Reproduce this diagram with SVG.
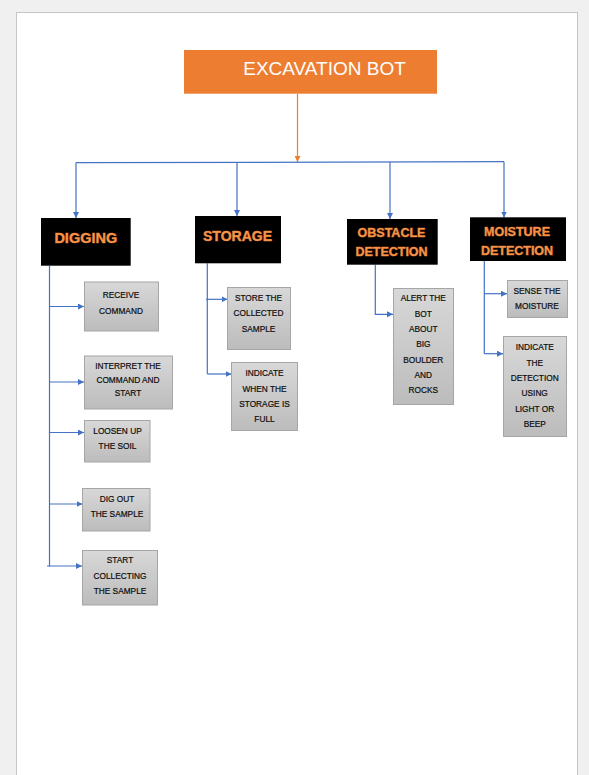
<svg xmlns="http://www.w3.org/2000/svg" width="589" height="775" viewBox="0 0 589 775">
<style>
.conn{fill:none;stroke:#4472C4;stroke-width:1.2}
.orange{fill:none;stroke:#ED7D31;stroke-width:1.2}
.blk{fill:#000}
.head{font-family:"Liberation Sans",Arial,sans-serif;font-weight:bold;fill:#F39448;stroke:#E0702A;stroke-width:0.5;paint-order:stroke;text-anchor:middle}
.gbox{fill:url(#gg);stroke:#A6A6A6;stroke-width:1}
.gt{font-family:"Liberation Sans",Arial,sans-serif;font-size:8.3px;fill:#0d0d0d;stroke:#0d0d0d;stroke-width:0.2;text-anchor:middle}
</style>
<defs>
<linearGradient id="gg" x1="0" y1="0" x2="0" y2="1">
<stop offset="0" stop-color="#D8D8D8"/>
<stop offset="1" stop-color="#BCBCBC"/>
</linearGradient>
<marker id="ab" markerUnits="userSpaceOnUse" markerWidth="7" markerHeight="6" refX="6" refY="3" orient="auto">
<path d="M0,0 L6,3 L0,6 z" fill="#4472C4"/>
</marker>
<marker id="ao" markerUnits="userSpaceOnUse" markerWidth="7" markerHeight="6" refX="6" refY="3" orient="auto">
<path d="M0,0 L6,3 L0,6 z" fill="#ED7D31"/>
</marker>
</defs>
<rect x="0" y="0" width="589" height="775" fill="#F0F0F0"/>
<rect x="16.5" y="12.5" width="561" height="790" fill="#FFFFFF" stroke="#C6C6C6" stroke-width="1"/>

<g id="connectors">
<line class="orange" x1="297.5" y1="94" x2="297.5" y2="162" marker-end="url(#ao)"/>
<line class="conn" x1="76" y1="162.7" x2="504" y2="161.7"/>
<line class="conn" x1="76" y1="162.5" x2="76" y2="218" marker-end="url(#ab)"/>
<line class="conn" x1="237" y1="162.2" x2="237" y2="216" marker-end="url(#ab)"/>
<line class="conn" x1="390" y1="162" x2="390" y2="219" marker-end="url(#ab)"/>
<line class="conn" x1="504" y1="161.7" x2="504" y2="217.5" marker-end="url(#ab)"/>
<line class="conn" x1="49.5" y1="265.7" x2="49.5" y2="566.5"/>
<line class="conn" x1="49.5" y1="306.5" x2="84" y2="306.5" marker-end="url(#ab)"/>
<line class="conn" x1="49.5" y1="382" x2="84" y2="382" marker-end="url(#ab)"/>
<line class="conn" x1="49.5" y1="432.5" x2="84" y2="432.5" marker-end="url(#ab)"/>
<line class="conn" x1="49.5" y1="504" x2="82.5" y2="504" marker-end="url(#ab)"/>
<line class="conn" x1="47" y1="566" x2="82" y2="566" marker-end="url(#ab)"/>
<line class="conn" x1="207.3" y1="263.3" x2="207.3" y2="374"/>
<line class="conn" x1="206" y1="299.3" x2="227.5" y2="299.3" marker-end="url(#ab)"/>
<line class="conn" x1="207.3" y1="374" x2="231.5" y2="374" marker-end="url(#ab)"/>
<path class="conn" d="M375.3,264.7 V314.3 H393" marker-end="url(#ab)"/>
<line class="conn" x1="484.3" y1="261" x2="484.3" y2="353.7"/>
<line class="conn" x1="484.3" y1="293.7" x2="507" y2="293.7" marker-end="url(#ab)"/>
<line class="conn" x1="484.3" y1="353.7" x2="503" y2="353.7" marker-end="url(#ab)"/>
</g>

<g id="excavation-bot">
<rect x="184" y="50" width="253" height="43.7" fill="#ED7D31"/>
<text x="324.5" y="75" font-family="'Liberation Sans',Arial,sans-serif" font-size="19" fill="#FFFFFF" text-anchor="middle">EXCAVATION BOT</text>
</g>

<g id="digging">
<rect class="blk" x="41" y="218" width="89.7" height="47.7"/>
<text class="head" x="85.8" y="243.3" font-size="14.5">DIGGING</text>
</g>
<g id="storage">
<rect class="blk" x="195" y="216" width="86" height="47.3"/>
<text class="head" x="237.5" y="241" font-size="14">STORAGE</text>
</g>
<g id="obstacle-detection">
<rect class="blk" x="347" y="219" width="90.7" height="45.7"/>
<text class="head" x="391.5" y="237" font-size="12.5">OBSTACLE</text>
<text class="head" x="391.5" y="256" font-size="12.5">DETECTION</text>
</g>
<g id="moisture-detection">
<rect class="blk" x="470" y="217.3" width="96" height="43.7"/>
<text class="head" x="517" y="236" font-size="12.5">MOISTURE</text>
<text class="head" x="517" y="255" font-size="12.5">DETECTION</text>
</g>

<g id="receive-command">
<rect class="gbox" x="84.5" y="282" width="74" height="49"/>
<text class="gt" x="121" y="298" font-size="9">RECEIVE</text>
<text class="gt" x="121" y="313.7" font-size="9">COMMAND</text>
</g>
<g id="interpret-command">
<rect class="gbox" x="84.5" y="356" width="88" height="53"/>
<text class="gt" x="128" y="369">INTERPRET THE</text>
<text class="gt" x="128" y="382.7">COMMAND AND</text>
<text class="gt" x="128" y="396">START</text>
</g>
<g id="loosen-soil">
<rect class="gbox" x="84.5" y="420.5" width="65.5" height="41.5"/>
<text class="gt" x="117.5" y="434">LOOSEN UP</text>
<text class="gt" x="117.5" y="448.7">THE SOIL</text>
</g>
<g id="dig-out-sample">
<rect class="gbox" x="82.5" y="488.5" width="67.5" height="42.5"/>
<text class="gt" x="117" y="502">DIG OUT</text>
<text class="gt" x="117" y="517">THE SAMPLE</text>
</g>
<g id="start-collecting">
<rect class="gbox" x="82.5" y="550.5" width="75" height="54.5"/>
<text class="gt" x="120" y="563">START</text>
<text class="gt" x="120" y="578.7">COLLECTING</text>
<text class="gt" x="120" y="594">THE SAMPLE</text>
</g>
<g id="store-sample">
<rect class="gbox" x="227.5" y="287.5" width="63" height="62"/>
<text class="gt" x="258.5" y="300.7" font-size="8">STORE THE</text>
<text class="gt" x="258.5" y="316" font-size="8">COLLECTED</text>
<text class="gt" x="258.5" y="332" font-size="8">SAMPLE</text>
</g>
<g id="indicate-storage-full">
<rect class="gbox" x="231.5" y="362.5" width="66" height="68"/>
<text class="gt" x="264.5" y="375.7">INDICATE</text>
<text class="gt" x="264.5" y="391.7">WHEN THE</text>
<text class="gt" x="264.5" y="407">STORAGE IS</text>
<text class="gt" x="264.5" y="421.7">FULL</text>
</g>
<g id="alert-bot">
<rect class="gbox" x="393.5" y="288.5" width="60" height="116"/>
<text class="gt" x="423.3" y="301" font-size="8">ALERT THE</text>
<text class="gt" x="423.3" y="317" font-size="8">BOT</text>
<text class="gt" x="423.3" y="331.7" font-size="8">ABOUT</text>
<text class="gt" x="423.3" y="347" font-size="8">BIG</text>
<text class="gt" x="423.3" y="362.7" font-size="8">BOULDER</text>
<text class="gt" x="423.3" y="378" font-size="8">AND</text>
<text class="gt" x="423.3" y="393" font-size="8">ROCKS</text>
</g>
<g id="sense-moisture">
<rect class="gbox" x="507.5" y="280.5" width="60" height="37"/>
<text class="gt" x="537" y="294" font-size="8">SENSE THE</text>
<text class="gt" x="537" y="309" font-size="8">MOISTURE</text>
</g>
<g id="indicate-detection">
<rect class="gbox" x="503.5" y="336.5" width="63" height="100"/>
<text class="gt" x="534.7" y="349.7">INDICATE</text>
<text class="gt" x="534.7" y="365.7">THE</text>
<text class="gt" x="534.7" y="380.7">DETECTION</text>
<text class="gt" x="534.7" y="395.7">USING</text>
<text class="gt" x="534.7" y="411.7">LIGHT OR</text>
<text class="gt" x="534.7" y="426.7">BEEP</text>
</g>
</svg>
